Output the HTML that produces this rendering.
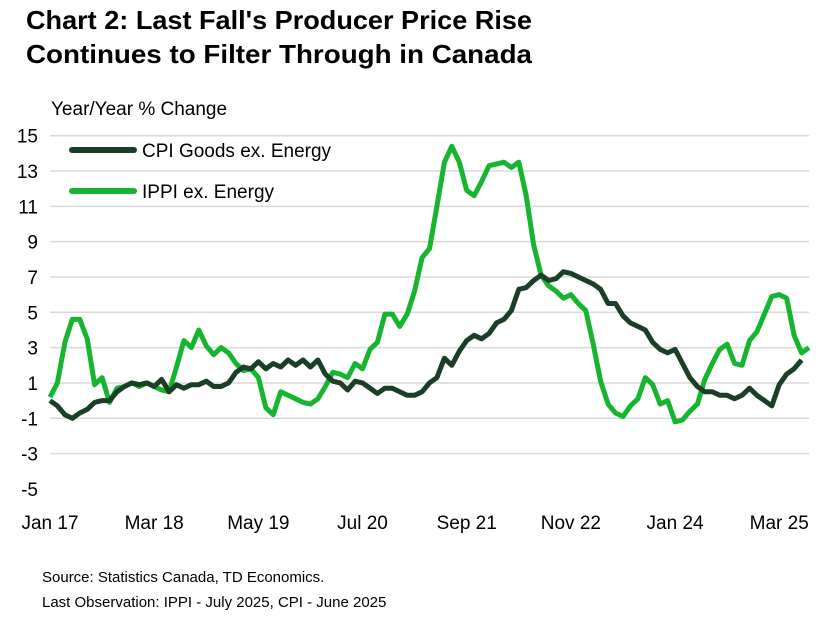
<!DOCTYPE html>
<html><head><meta charset="utf-8"><style>
html,body{margin:0;padding:0;background:#fff;}
svg{display:block;font-family:"Liberation Sans",sans-serif;}
</style></head><body>
<svg id="chart" width="828" height="618" viewBox="0 0 828 618">
<text x="26" y="29" font-size="26" font-weight="bold" fill="#000" textLength="506" lengthAdjust="spacingAndGlyphs">Chart 2: Last Fall's Producer Price Rise</text>
<text x="26" y="63" font-size="26" font-weight="bold" fill="#000" textLength="506" lengthAdjust="spacingAndGlyphs">Continues to Filter Through in Canada</text>
<text x="51" y="115" font-size="19" fill="#000">Year/Year % Change</text>
<g id="grid"></g><g id="yticks"></g><g id="xticks"></g><g id="series"></g>
<g>
<line x1="72" y1="150" x2="134" y2="150" stroke="#1b3f26" stroke-width="6" stroke-linecap="round"/>
<text x="142" y="157" font-size="19" fill="#000">CPI Goods ex. Energy</text>
<line x1="72" y1="191" x2="134" y2="191" stroke="#16b52f" stroke-width="6" stroke-linecap="round"/>
<text x="142" y="198" font-size="19" fill="#000">IPPI ex. Energy</text>
</g>
<text x="42" y="582" font-size="15" fill="#000">Source: Statistics Canada, TD Economics.</text>
<text x="42" y="607" font-size="15" fill="#000">Last Observation: IPPI - July 2025, CPI - June 2025</text>
</svg>
<script>
const yTicks=[15,13,11,9,7,5,3,1,-1,-3,-5];
const xLabels=["Jan 17","Mar 18","May 19","Jul 20","Sep 21","Nov 22","Jan 24","Mar 25"];
const xLabelMonths=[0,14,28,42,56,70,84,98];
const cpi=[0.0,-0.3,-0.8,-1.0,-0.7,-0.5,-0.1,0.0,0.0,0.5,0.8,1.0,0.9,1.0,0.8,1.2,0.5,0.9,0.7,0.9,0.9,1.1,0.8,0.8,1.0,1.6,1.9,1.8,2.2,1.8,2.1,1.9,2.3,2.0,2.3,1.9,2.3,1.5,1.1,1.0,0.6,1.1,1.0,0.7,0.4,0.7,0.7,0.5,0.3,0.3,0.5,1.0,1.3,2.4,2.0,2.8,3.4,3.7,3.5,3.8,4.4,4.6,5.1,6.3,6.4,6.8,7.1,6.8,6.9,7.3,7.2,7.0,6.8,6.6,6.3,5.5,5.5,4.8,4.4,4.2,4.0,3.3,2.9,2.7,2.9,2.1,1.3,0.8,0.5,0.5,0.3,0.3,0.1,0.3,0.7,0.3,0.0,-0.3,0.9,1.5,1.8,2.3];
const ippi=[0.2,1.0,3.3,4.6,4.6,3.5,0.9,1.3,-0.1,0.7,0.8,1.0,0.8,1.0,0.8,0.6,0.5,1.9,3.4,3.0,4.0,3.1,2.6,3.0,2.7,2.1,1.7,1.8,1.3,-0.4,-0.8,0.5,0.3,0.1,-0.1,-0.2,0.1,0.8,1.6,1.5,1.3,2.1,1.8,2.9,3.3,4.9,4.9,4.2,4.9,6.2,8.1,8.6,11.0,13.5,14.4,13.5,11.9,11.6,12.4,13.3,13.4,13.5,13.2,13.5,11.6,8.8,7.1,6.5,6.2,5.8,6.0,5.5,5.1,3.2,1.1,-0.2,-0.7,-0.9,-0.3,0.1,1.3,0.9,-0.2,0.0,-1.2,-1.1,-0.6,-0.2,1.2,2.1,2.9,3.2,2.1,2.0,3.4,3.9,4.9,5.9,6.0,5.8,3.7,2.7,3.0];
const NS="http://www.w3.org/2000/svg";
const x0=50,x1=809,nM=102;
function xs(m){return x0+(x1-x0)*m/nM;}
function ys(v){return 400.6-v*17.66;}
const grid=document.getElementById('grid'),yt=document.getElementById('yticks'),xt=document.getElementById('xticks'),ser=document.getElementById('series');
yTicks.forEach(v=>{
  if(v>-5){const l=document.createElementNS(NS,'line');
  l.setAttribute('x1',x0);l.setAttribute('x2',x1);l.setAttribute('y1',ys(v));l.setAttribute('y2',ys(v));
  l.setAttribute('stroke','#d9d9d9');l.setAttribute('stroke-width','1.5');
  
  
  grid.appendChild(l);}
  const t=document.createElementNS(NS,'text');
  t.setAttribute('x',38);t.setAttribute('y',ys(v)+7);t.setAttribute('text-anchor','end');t.setAttribute('font-size','19');
  t.textContent=v;
  
  
  yt.appendChild(t);
});
xLabels.forEach((s,i)=>{
  const t=document.createElementNS(NS,'text');
  t.setAttribute('x',xs(xLabelMonths[i]));t.setAttribute('y',529);t.setAttribute('text-anchor','middle');t.setAttribute('font-size','19');
  t.textContent=s;
  
  
  xt.appendChild(t);
});
function line(data,color,name){
  const p=document.createElementNS(NS,'polyline');
  p.setAttribute('points',data.map((v,i)=>xs(i).toFixed(1)+','+ys(v).toFixed(1)).join(' '));
  p.setAttribute('fill','none');p.setAttribute('stroke',color);p.setAttribute('stroke-width','5');p.setAttribute('stroke-linejoin','round');
  
  
  ser.appendChild(p);
}
line(ippi,'#16b52f','ippi-line');
line(cpi,'#1b3f26','cpi-line');
</script>
</body></html>
